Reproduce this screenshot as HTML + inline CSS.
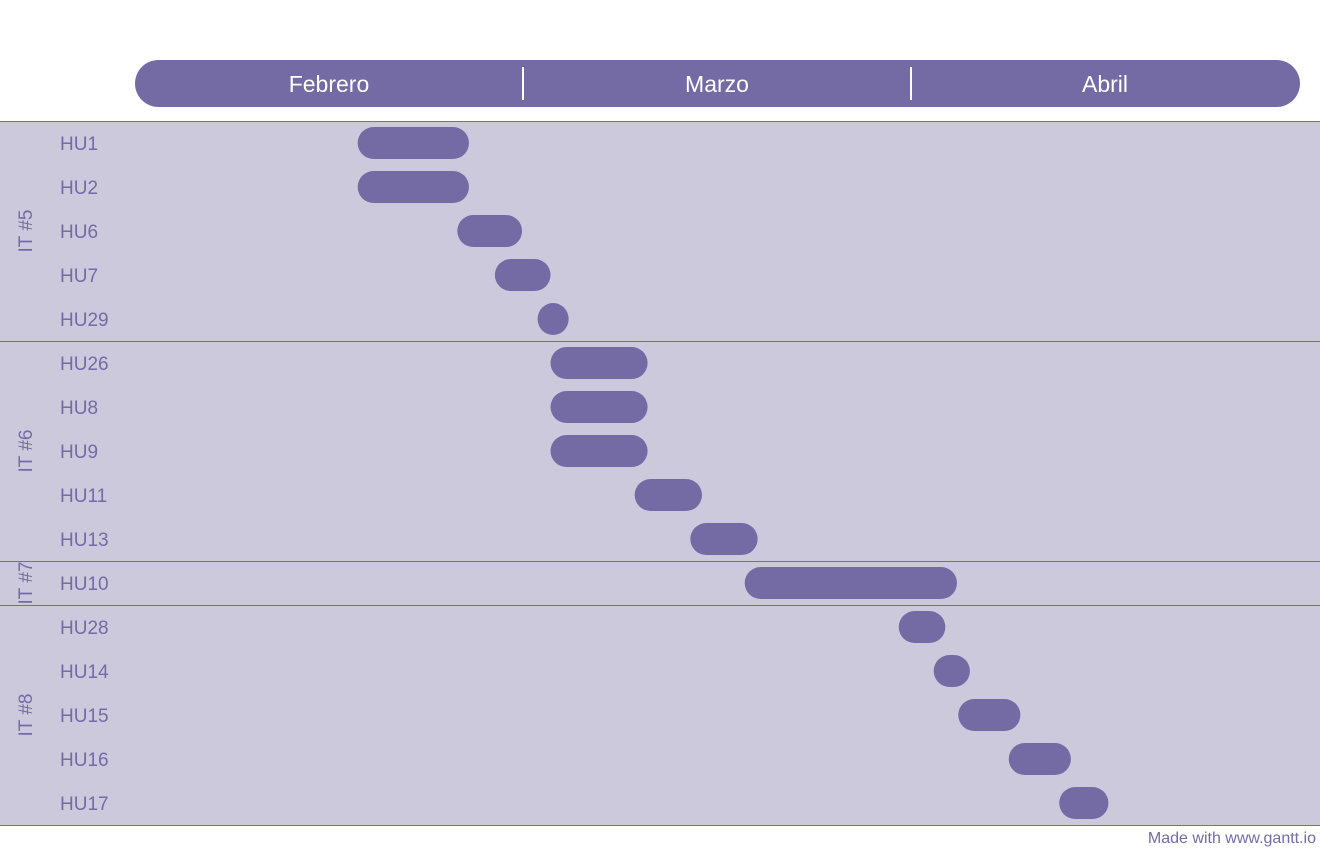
<!DOCTYPE html>
<html><head><meta charset="utf-8"><style>
body{margin:0;width:1320px;height:852px;background:#fff;font-family:"Liberation Sans",sans-serif;overflow:hidden;position:relative}
svg{position:absolute;left:0;top:0}
</style></head><body>
<svg width="1320" height="852" id="chart">
<rect x="135" y="60" width="1165" height="47" rx="23.5" fill="#746ba5"/>
<line x1="523" y1="67" x2="523" y2="100" stroke="#fff" stroke-width="2"/>
<line x1="911" y1="67" x2="911" y2="100" stroke="#fff" stroke-width="2"/>
<text x="329" y="92" fill="#fff" font-size="23" text-anchor="middle">Febrero</text>
<text x="717" y="92" fill="#fff" font-size="23" text-anchor="middle">Marzo</text>
<text x="1105" y="92" fill="#fff" font-size="23" text-anchor="middle">Abril</text>
<g id="body"></g>
<text x="1316" y="843" fill="#746ba5" font-size="16" text-anchor="end">Made with www.gantt.io</text>
</svg>
<script>
const tasks=["HU1","HU2","HU6","HU7","HU29","HU26","HU8","HU9","HU11","HU13","HU10","HU28","HU14","HU15","HU16","HU17"];
const starts=[17.2,17.2,24.9,27.8,31.1,32.1,32.1,32.1,38.6,42.9,47.1,59.0,61.7,63.6,67.5,71.4];
const ends=[25.8,25.8,29.9,32.1,33.5,39.6,39.6,39.6,43.8,48.1,63.5,62.6,64.5,68.4,72.3,75.2];
const groups=["IT #5","IT #6","IT #7","IT #8"];
const groupSizes=[5,5,1,5];
const x0=135,x1=1300,dMax=90,top0=121,rowH=44;
const x=d=>x0+d*(x1-x0)/dMax;
const y=i=>top0+i*rowH;
const g=document.getElementById('body');
const NS='http://www.w3.org/2000/svg';
function mk(t,a){const e=document.createElementNS(NS,t);for(const k in a)e.setAttribute(k,a[k]);g.appendChild(e);return e;}
let r=0;
groups.forEach((name,gi)=>{
  const n=groupSizes[gi];
  const band=mk('rect',{x:0,y:y(r),width:1320,height:n*rowH,fill:'#cdc9dd'});
  
  
  const l=mk('line',{x1:0,x2:1320,y1:y(r)+0.5,y2:y(r)+0.5,stroke:'#746ba5','stroke-width':1});
  
  
  const cy=y(r)+n*rowH/2;
  const t=mk('text',{x:0,y:0,fill:'#746ba5','font-size':19,'text-anchor':'middle',transform:`translate(32,${cy}) rotate(-90)`});
  t.textContent=name;
  
  
  r+=n;
});
const lb=mk('line',{x1:0,x2:1320,y1:y(r)+0.5,y2:y(r)+0.5,stroke:'#746ba5','stroke-width':1});


tasks.forEach((name,i)=>{
  const t=mk('text',{x:60,y:y(i)+29,fill:'#746ba5','font-size':19});
  t.textContent=name;
  
  
  const b=mk('rect',{x:x(starts[i]),y:y(i)+6,width:x(ends[i])-x(starts[i]),height:32,rx:16,fill:'#746ba5'});
  
  
});
</script>
</body></html>
